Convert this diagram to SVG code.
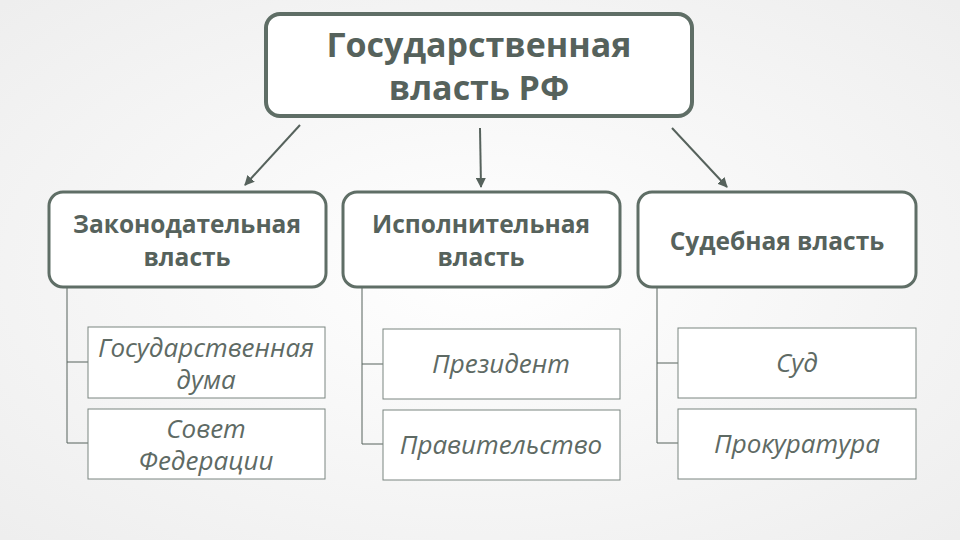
<svg xmlns="http://www.w3.org/2000/svg" width="960" height="540" viewBox="0 0 960 540">
<defs>
<radialGradient id="bg" cx="50%" cy="50%" r="70%"><stop offset="0" stop-color="#ffffff"/><stop offset="1" stop-color="#eeeeee"/></radialGradient>
<marker id="ah" viewBox="0 0 10 10" refX="9" refY="5" markerWidth="5" markerHeight="5" orient="auto"><path d="M0,0L10,5L0,10z" fill="#56625c"/></marker>
<style>
.main{fill:#fff;stroke:#5f6e66;stroke-width:4}
.mid{fill:#fff;stroke:#5f6e66;stroke-width:3}
.sub{fill:#fff;stroke:#7a8580;stroke-width:1}
.t{font-family:"Open Sans","Liberation Sans",sans-serif;font-weight:bold;fill:#56625c;text-anchor:middle}
.s{font-family:"Open Sans","Liberation Sans",sans-serif;font-style:italic;fill:#5e6a64;text-anchor:middle;font-size:26px}
.c{stroke:#56625c;stroke-width:2;fill:none}
.l{stroke:#56625c;stroke-width:1;fill:none}
</style>
</defs>
<rect width="960" height="540" fill="url(#bg)"/>
<g id="connectors">
<line class="c" x1="300" y1="125" x2="245" y2="185" marker-end="url(#ah)"/>
<line class="c" x1="480" y1="128" x2="481" y2="187" marker-end="url(#ah)"/>
<line class="c" x1="672" y1="128" x2="727" y2="187" marker-end="url(#ah)"/>
<path class="l" d="M67,287V443H88M67,362H88"/>
<path class="l" d="M362,287V444H383M362,364H383"/>
<path class="l" d="M657,287V443H678M657,363H678"/>
</g>
<g id="root"><rect class="main" x="266" y="14" width="426" height="102" rx="14"/>
<text class="t" font-size="34" x="479" y="57">Государственная</text><text class="t" font-size="34" x="479" y="100">власть РФ</text></g>
<g id="leg"><rect class="mid" x="49" y="192" width="277" height="95" rx="14"/>
<text class="t" font-size="24.5" x="187" y="233">Законодательная</text><text class="t" font-size="24.5" x="187" y="266">власть</text></g>
<g id="exe"><rect class="mid" x="343" y="192" width="277" height="95" rx="14"/>
<text class="t" font-size="24.5" x="481" y="233">Исполнительная</text><text class="t" font-size="24.5" x="481" y="266">власть</text></g>
<g id="jud"><rect class="mid" x="638" y="192" width="278" height="95" rx="14"/>
<text class="t" font-size="24.5" x="777" y="250">Судебная власть</text></g>
<g id="duma"><rect class="sub" x="88" y="327" width="237" height="71"/>
<text class="s" x="206" y="357">Государственная</text><text class="s" x="206" y="389">дума</text></g>
<g id="sovet"><rect class="sub" x="88" y="409" width="237" height="70"/>
<text class="s" x="206" y="438">Совет</text><text class="s" x="206" y="470">Федерации</text></g>
<g id="pres"><rect class="sub" x="383" y="329" width="237" height="70"/>
<text class="s" x="501" y="373">Президент</text></g>
<g id="gov"><rect class="sub" x="383" y="410" width="237" height="70"/>
<text class="s" x="501" y="454">Правительство</text></g>
<g id="sud"><rect class="sub" x="678" y="328" width="238" height="70"/>
<text class="s" x="797" y="372">Суд</text></g>
<g id="prok"><rect class="sub" x="678" y="409" width="238" height="70"/>
<text class="s" x="797" y="453">Прокуратура</text></g>
</svg>
